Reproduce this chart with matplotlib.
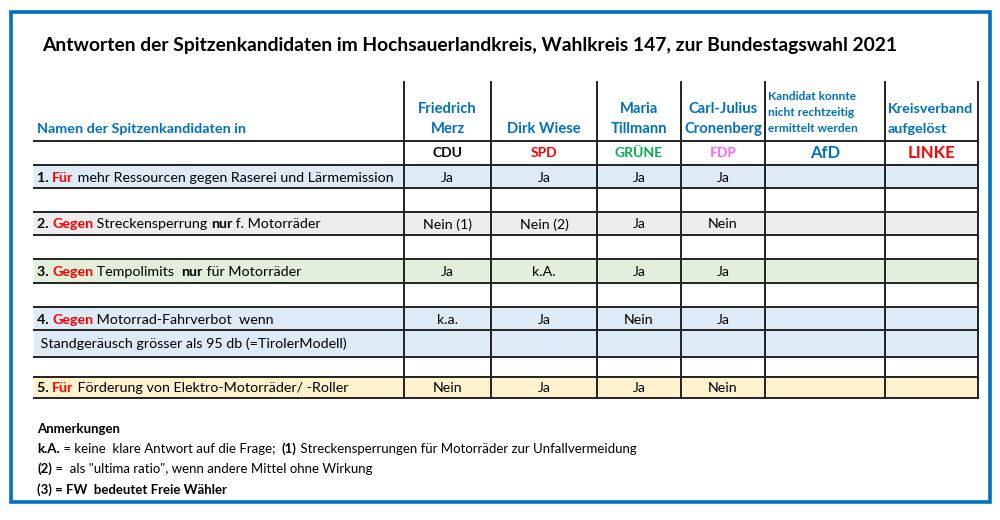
import matplotlib
matplotlib.use("Agg")
import matplotlib.pyplot as plt
from matplotlib.patches import Rectangle

plt.rcParams['font.family'] = ['Lato', 'DejaVu Sans']

BLUE = '#0070C0'
RED = '#FF0000'

title = "Antworten der Spitzenkandidaten im Hochsauerlandkreis, Wahlkreis 147, zur Bundestagswahl 2021"
header_left = "Namen der Spitzenkandidaten in"

candidates = ["Friedrich\nMerz", "Dirk Wiese", "Maria\nTillmann", "Carl-Julius\nCronenberg",
              "Kandidat konnte\nnicht rechtzeitig\nermittelt werden", "Kreisverband\naufgelöst"]
parties = ["CDU", "SPD", "GRÜNE", "FDP", "AfD", "LINKE"]
party_colors = ['black', RED, '#00B050', '#FF66FF', BLUE, RED]

# question texts as (text, style) pieces: n = normal, b = bold, r = bold red
q1 = [("1. ", 'b'), ("Für", 'r'), (" mehr Ressourcen gegen Raserei und Lärmemission", 'n')]
q2 = [("2. ", 'b'), ("Gegen", 'r'), (" Streckensperrung ", 'n'), ("nur", 'b'), (" f. Motorräder", 'n')]
q3 = [("3. ", 'b'), ("Gegen", 'r'), (" Tempolimits  ", 'n'), ("nur", 'b'), (" für Motorräder", 'n')]
q4 = [("4. ", 'b'), ("Gegen", 'r'), (" Motorrad-Fahrverbot  wenn", 'n')]
q4b = [(" Standgeräusch grösser als 95 db (=TirolerModell)", 'n')]
q5 = [("5. ", 'b'), ("Für", 'r'), (" Förderung von Elektro-Motorräder/ -Roller", 'n')]

a1 = ["Ja", "Ja", "Ja", "Ja", "", ""]
a2 = ["Nein (1)", "Nein (2)", "Ja", "Nein", "", ""]
a3 = ["Ja", "k.A.", "Ja", "Ja", "", ""]
a4 = ["k.a.", "Ja", "Nein", "Ja", "", ""]
a4b = ["", "", "", "", "", ""]
a5 = ["Nein", "Ja", "Ja", "Nein", "", ""]
blank = None

notes = [
    [("Anmerkungen", 'b')],
    [("k.A.", 'b'), (" = keine  klare Antwort auf die Frage;  ", 'n'), ("(1)", 'b'),
     (" Streckensperrungen für Motorräder zur Unfallvermeidung", 'n')],
    [("(2)", 'b'), (" =  als \"ultima ratio\", wenn andere Mittel ohne Wirkung", 'n')],
    [("(3) = FW  bedeutet Freie Wähler", 'b')],
]

# body rows: (question pieces, answers, fill colour)
rows = [
    ([], parties, 'white'),
    (q1, a1, '#DDEBF7'),
    (blank, None, 'white'),
    (q2, a2, '#EDEDED'),
    (blank, None, 'white'),
    (q3, a3, '#E2EFDA'),
    (blank, None, 'white'),
    (q4, a4, '#DDEBF7'),
    (q4b, a4b, '#DDEBF7'),
    (blank, None, 'white'),
    (q5, a5, '#FFF2CC'),
]

# layout in pixels
col_x = [34, 404, 491, 597, 681, 765, 885, 978]
row_y = [141, 165, 188, 212, 235, 259, 283, 307, 330, 357, 377, 398]
head_top = 82

fig = plt.figure(figsize=(10, 5.2), dpi=100)
ax = fig.add_axes([0, 0, 1, 1])
ax.set_xlim(0, 1000)
ax.set_ylim(520, 0)
ax.axis('off')

ax.add_patch(Rectangle((11, 12), 979, 490, fill=False, ec=BLUE, lw=2.6))

ax.text(42, 46, title, fontsize=13.9, fontweight='bold', va='center', ha='left')
ax.text(37, 129, header_left, fontsize=10.4, fontweight='bold', color=BLUE, va='center')


def styled(x, y, pieces, size):
    prev = None
    for s, st in pieces:
        kw = dict(fontsize=size, color=RED if st == 'r' else 'black',
                  fontweight='normal' if st == 'n' else 'bold', ha='left', va='baseline')
        if prev is None:
            prev = ax.text(x, y, s, **kw)
        else:
            prev = ax.annotate(s, xy=(1, 0), xycoords=prev, textcoords='offset points',
                               xytext=(0, 0), va='bottom', ha='left',
                               fontsize=kw['fontsize'], color=kw['color'], fontweight=kw['fontweight'])


# candidate headers
for i, name in enumerate(candidates):
    lines = name.split("\n")
    x0, x1 = col_x[i + 1], col_x[i + 2]
    if i < 4:
        xc, ha, fs, step = (x0 + x1) / 2, 'center', 10.6, 20
    elif i == 4:
        xc, ha, fs, step = x0 + 3, 'left', 8.6, 16.5
    else:
        xc, ha, fs, step = x0 + 3, 'left', 10.4, 20
    for k, line in enumerate(reversed(lines)):
        ax.text(xc, 129 - k * step, line, fontsize=fs, fontweight='bold', color=BLUE,
                ha=ha, va='center')

# body
for r, (q, ans, fill) in enumerate(rows):
    y0, y1 = row_y[r], row_y[r + 1]
    if fill != 'white':
        ax.add_patch(Rectangle((col_x[0], y0), col_x[-1] - col_x[0], y1 - y0, fc=fill, ec='none', zorder=0))
    yc = (y0 + y1) / 2
    if q:
        styled(37, yc + 5, q, 10.3)
    if ans is parties:
        for i, p in enumerate(parties):
            big = p in ("AfD", "LINKE")
            ax.text((col_x[i + 1] + col_x[i + 2]) / 2, yc, p, fontsize=12 if big else 10,
                    fontweight='bold', color=party_colors[i], ha='center', va='center')
    elif ans:
        for i, a in enumerate(ans):
            ax.text((col_x[i + 1] + col_x[i + 2]) / 2, yc + 1, a, fontsize=10.2,
                    ha='center', va='center')

for y in row_y:
    ax.plot([col_x[0], col_x[-1]], [y, y], color='#222222', lw=1.4, zorder=3)
for x in col_x[1:]:
    ax.plot([x, x], [head_top, row_y[-1]], color='#222222', lw=1.4, zorder=3)

note_y = [433, 453, 473, 494]
for pieces, y in zip(notes, note_y):
    styled(37, y, pieces, 9.5)

fig.savefig("out.png", dpi=100)
